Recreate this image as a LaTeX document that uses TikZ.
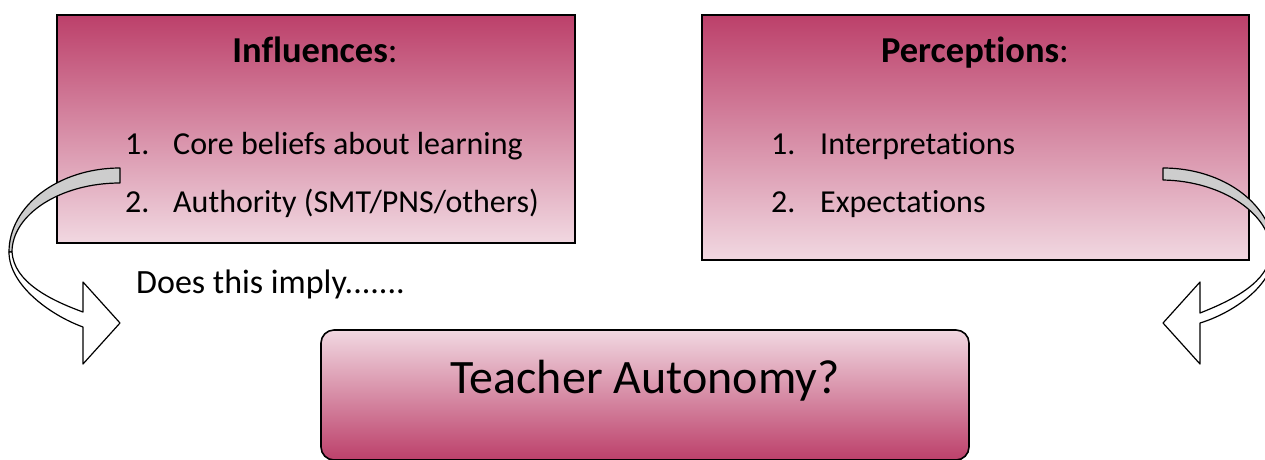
\documentclass[tikz,border=0pt]{standalone}
\usepackage{fontspec}
\setmainfont[Ligatures={NoCommon}]{Carlito}
\definecolor{dk}{RGB}{188,64,106}
\definecolor{lt}{RGB}{241,216,225}
\definecolor{band}{RGB}{205,205,205}
\begin{document}
\begin{tikzpicture}[x=1pt,y=-1pt,
  box/.style={draw=black,line width=1.6pt,inner sep=0pt},
  downbox/.style={box,top color=dk,bottom color=lt},
  upbox/.style={box,top color=lt,bottom color=dk,rounded corners=13pt},
  txt/.style={font=\fontsize{32}{38}\selectfont,inner sep=0pt},
  head/.style={font=\fontsize{36.5}{44}\selectfont,inner sep=0pt},
  note/.style={font=\fontsize{34}{40}\selectfont,inner sep=0pt},
  big/.style={font=\fontsize{48}{56}\selectfont,inner sep=0pt},
  ribbon/.style={draw=black,line width=1.2pt,line join=round}]
\useasboundingbox (0,0) rectangle (1265,459);
\clip (0,0) rectangle (1265,459);
% boxes
\node[downbox,minimum width=518pt,minimum height=228pt] (inf) at (316,129) {};
\node[downbox,minimum width=547pt,minimum height=245pt] (per) at (975.5,137.5) {};
\node[upbox,minimum width=648pt,minimum height=130pt] (ta) at (645,395) {};
% texts
\node[head,anchor=base] (inft) at (315,62) {\textbf{Influences}:};
\node[txt,anchor=base west] (i1n) at (125,154) {1.};
\node[txt,anchor=base west] (i1) at (173,154) {Core beliefs about learning};
\node[txt,anchor=base west] (i2n) at (125,212) {2.};
\node[txt,anchor=base west] (i2) at (173,212) {Authority (SMT/PNS/others)};
\node[head,anchor=base] (pert) at (975,62) {\textbf{Perceptions}:};
\node[txt,anchor=base west] (p1n) at (771,154) {1.};
\node[txt,anchor=base west] (p1) at (820,154) {Interpretations};
\node[txt,anchor=base west] (p2n) at (771,212) {2.};
\node[txt,anchor=base west] (p2) at (820,212) {Expectations};
\node[note,anchor=base west] (imp) at (136,293) {Does this imply.......};
\node[big,anchor=base] (tat) at (645,393) {Teacher Autonomy?};
% left curved arrow
\begin{scope}
\filldraw[ribbon,fill=band] (120,168) .. controls (58.7,168) and (9,205.6) .. (9,252)
  -- (12,252) .. controls (12,214.4) and (60.4,183) .. (120,183) -- cycle;
\filldraw[ribbon,fill=white] (9,252) .. controls (9,285) and (50,315) .. (83,327)
  -- (83,364) -- (120,323) -- (83,282) -- (83,312)
  .. controls (50,300) and (14,282) .. (12,252) -- cycle;
\end{scope}
% right curved arrow (mirror)
\begin{scope}[shift={(1283,0)},xscale=-1]
\filldraw[ribbon,fill=band] (120,168) .. controls (58.7,168) and (9,205.6) .. (9,252)
  -- (12,252) .. controls (12,214.4) and (60.4,181) .. (120,180) -- cycle;
\filldraw[ribbon,fill=white] (9,252) .. controls (9,285) and (50,313) .. (83,323)
  -- (83,364) -- (120,323) -- (83,282) -- (83,313)
  .. controls (50,300) and (14,282) .. (12,252) -- cycle;
\end{scope}
\end{tikzpicture}
\end{document}
